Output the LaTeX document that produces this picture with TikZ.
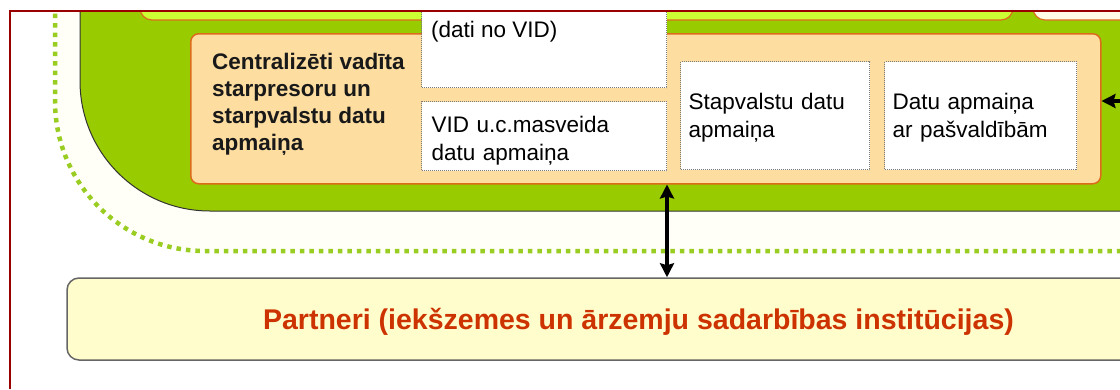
\documentclass[tikz,border=0pt]{standalone}
\usepackage{fontspec}
\setmainfont{Liberation Sans}
\usetikzlibrary{positioning,arrows.meta}
\definecolor{framered}{HTML}{990000}
\definecolor{leaf}{HTML}{99CC00}
\definecolor{dotgreen}{HTML}{9ACD22}
\definecolor{paper}{HTML}{FFFFF7}
\definecolor{lime}{HTML}{CCFF33}
\definecolor{creamy}{HTML}{FFFDE6}
\definecolor{peach}{HTML}{FDDDA0}
\definecolor{rim}{HTML}{DC6C1C}
\definecolor{boxgray}{HTML}{7A7A7A}
\definecolor{partfill}{HTML}{FFFDCC}
\definecolor{parttext}{HTML}{CC3300}

\begin{document}
\begin{tikzpicture}[x=1pt,y=-1pt,
    >={Stealth[length=14pt,width=14pt,inset=2pt]},
    every node/.style={inner sep=0pt},
    toppad/.style={execute at begin node={\rule{0pt}{#1}}},
    boxtext/.style={font=\fontsize{22.5}{28}\selectfont},
    databox/.style={boxtext, draw=boxgray, fill=white, line width=1pt,
      dash pattern=on 1pt off 1pt, anchor=north west, align=left},
    flow/.style={line width=3.4pt}]
  \useasboundingbox (0,0) rectangle (1120,389);
  \begin{scope}
    \clip (10,11) rectangle (1120,389);
    \fill[paper, rounded corners=150pt] (55,-300) rectangle (1400,251);
    \draw[dotgreen, line width=4.5pt, dash pattern=on 4.5pt off 5pt, rounded corners=150pt]
      (55,-300) -- (55,251) -- (1400,251);
    \draw[fill=leaf, draw=black!80, line width=1pt, rounded corners=130pt]
      (80,-300) rectangle (1400,211);
    \draw[fill=lime, draw=rim, line width=1.2pt, rounded corners=12pt]
      (140,-40) rectangle (1013,20);
    \draw[fill=creamy, draw=rim, line width=1.2pt, rounded corners=12pt]
      (1033,-40) rectangle (1400,20);

    \node[draw=rim, fill=peach, line width=1.5pt, rounded corners=8pt, anchor=north west,
      minimum width=910pt, minimum height=150pt] (exch) at (190,33) {};
    \node[anchor=west, align=left, text=black!90, font=\fontsize{22.5}{26.9}\selectfont\bfseries]
      (exchtitle) at (212,104) {Centralizēti vadīta\\starpresoru un\\starpvalstu datu\\apmaiņa};

    \node[databox, anchor=south west, minimum width=245pt, minimum height=130pt] (vidbox) at (421,88) {};
    \node[boxtext, anchor=base west] (vidnote) at (431,37) {(dati no VID)};
    \node[databox, toppad=25pt, minimum width=245pt, minimum height=69pt, inner xsep=10pt, text width=225pt]
      (vidmass) at (421,101) {VID u.c.masveida\\datu apmaiņa};
    \node[databox, toppad=21pt, minimum width=189pt, minimum height=108pt, inner xsep=8pt, text width=173pt]
      (intl) at (680,61) {Stapvalstu datu\\apmaiņa};
    \node[databox, toppad=21pt, right=14pt of intl, minimum width=192pt, minimum height=108pt, inner xsep=8pt,
      text width=176pt] (munic) {Datu apmaiņa\\ar pašvaldībām};

    \node[draw=black!60, fill=partfill, line width=1.5pt, rounded corners=12pt,
      minimum width=1143pt, minimum height=82pt, text=parttext,
      font=\fontsize{28.5}{34}\selectfont\bfseries]
      (partneri) at (638.5,319) {\rule{0pt}{27pt}Partneri (iekšzemes un ārzemju sadarbības institūcijas)};

    \coordinate (feed) at (1130,101);
    \draw[flow, ->] (feed) -- (feed -| exch.east);
    \draw[flow, <->] (vidmass.east |- exch.south) -- (vidmass.east |- partneri.north);
  \end{scope}
  \draw[framered, line width=2pt] (10,389) -- (10,11) -- (1120,11);
\end{tikzpicture}
\end{document}
